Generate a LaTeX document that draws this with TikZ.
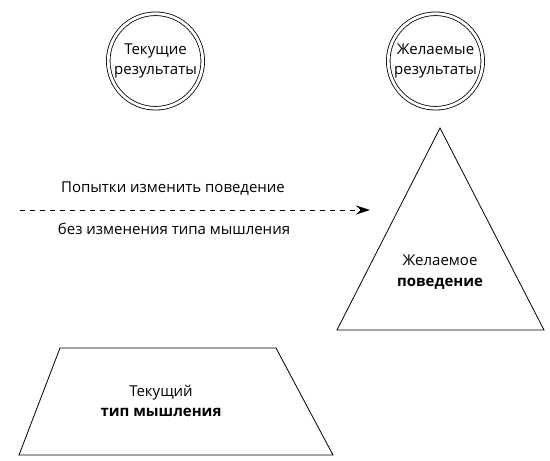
\documentclass[tikz,border=0pt]{standalone}
\usepackage{fontspec}
\setmainfont{Open Sans}
\usepackage{tikz}
\usetikzlibrary{arrows.meta}

\tikzset{
	result/.style={circle, draw, double, double distance=2.8pt, line width=0.8pt, minimum size=94.5pt, inner sep=0pt, align=center, font=\fontsize{15}{19.5}\selectfont},
	label/.style={align=center, font=\fontsize{15}{20.5}\selectfont},
}

\begin{document}
\begin{tikzpicture}[x=1pt, y=-1pt, line width=0.8pt]
	\useasboundingbox (0,0) rectangle (550,461);
	%\draw[help lines] (0,0) grid[step=50] (550,461);
	\node[result] (cur) at (155.5,61) {Текущие\\результаты};
	\node[result] (des) at (435.5,61) {Желаемые\\результаты};

	% triangle
	\coordinate (top) at (440,128);
	\coordinate (tl) at (337,330);
	\coordinate (tr) at (544,330);
	\draw (top)--(tr)--(tl)--cycle;
	\node[label] (beh) at (440,272) {Желаемое\\\textbf{поведение}};

	% trapezoid
	\coordinate (a) at (60,348);
	\coordinate (b) at (276,348);
	\coordinate (c) at (333,455);
	\coordinate (d) at (19,455);
	\draw (a)--(b)--(c)--(d)--cycle;
	\node[label] (think) at (161,401) {Текущий\\\textbf{тип мышления}};

	% dashed arrow
	\coordinate (start) at (20,210);
	\coordinate (end) at (370,210);
	\draw[dashed, dash pattern=on 5pt off 5pt, -{Stealth[length=14pt, width=9pt]}] (start)--(end);
	\node[label] (try) at (173,189) {Попытки изменить поведение};
	\node[label] (nochg) at (174,229) {без изменения типа мышления};
\end{tikzpicture}
\end{document}
